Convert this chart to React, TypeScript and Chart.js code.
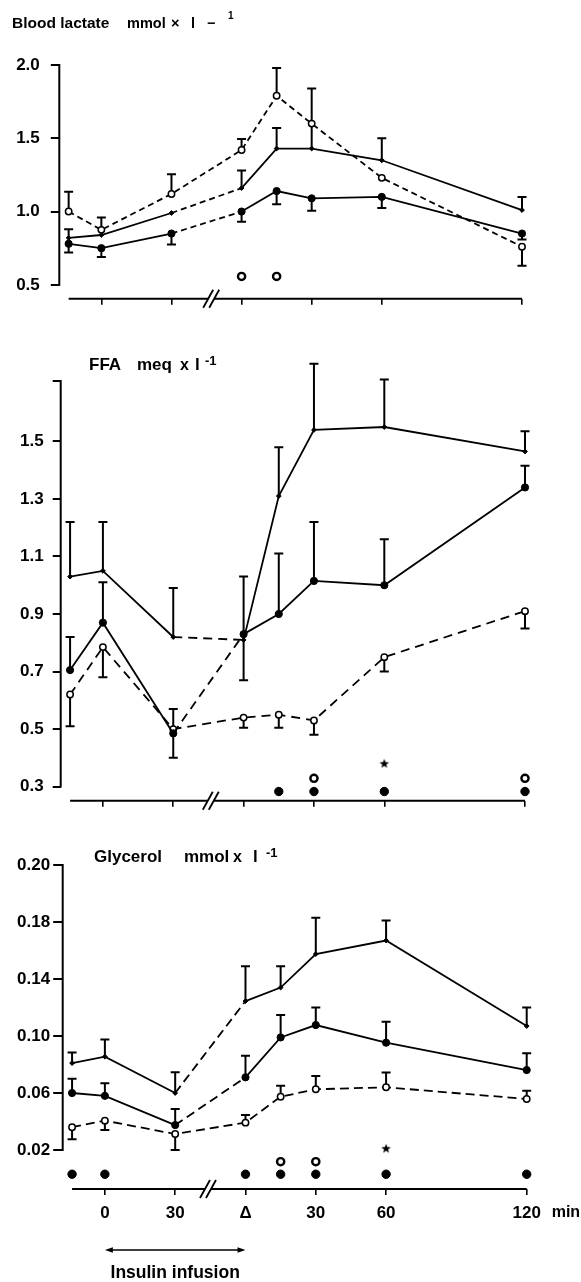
import React, { useEffect, useRef } from 'react';
import { Chart, registerables } from 'chart.js';

Chart.register(...registerables);

// Positions on the shared time axis (min). The second phase starts at Δ, which sits at 60.
const timePoints = [-14, 0, 30, 60, 75, 90, 120, 180];
const xTickValues = [0, 30, 60, 90, 120, 180];
const xTickLabels = ['0', '30', 'Δ', '30', '60', '120'];

// Blood lactate, mmol x l-1
const lactateTicks = [0.5, 1.0, 1.5, 2.0];
const lactateTickLabels = ['0.5', '1.0', '1.5', '2.0'];
const lactateSmall = [0.82, 0.84, 0.99, 1.16, 1.43, 1.43, 1.35, 1.01];
const lactateSmallSE = [0.06, null, null, 0.12, 0.14, 0.41, 0.15, 0.09];
const lactateFilled = [0.78, 0.75, 0.85, 1.0, 1.14, 1.09, 1.1, 0.85];
const lactateFilledSE = [-0.06, -0.06, -0.075, -0.07, -0.09, -0.085, -0.075, -0.04];
const lactateOpen = [1.0, 0.875, 1.12, 1.42, 1.79, 1.6, 1.23, 0.76];
const lactateOpenSE = [0.135, 0.085, 0.135, 0.075, 0.19, null, null, -0.13];
const lactateSigOpen = [60, 75];

// FFA, meq x l-1
const ffaTicks = [0.3, 0.5, 0.7, 0.9, 1.1, 1.3, 1.5, 1.71];
const ffaTickLabels = ['0.3', '0.5', '0.7', '0.9', '1.1', '1.3', '1.5', ''];
const ffaSmall = [1.03, 1.05, 0.82, 0.81, 1.31, 1.54, 1.55, 1.465];
const ffaSmallSE = [0.19, 0.17, 0.17, -0.14, 0.17, 0.23, 0.165, 0.07];
const ffaFilled = [0.705, 0.87, 0.485, 0.83, 0.9, 1.015, 1.0, 1.34];
const ffaFilledSE = [0.115, 0.14, -0.085, 0.2, 0.21, 0.205, 0.16, 0.075];
const ffaOpen = [0.62, 0.785, 0.5, 0.54, 0.55, 0.53, 0.75, 0.91];
const ffaOpenSE = [-0.11, -0.105, 0.07, -0.035, -0.045, -0.05, -0.05, -0.06];
const ffaSigFilled = [75, 90, 120, 180];
const ffaSigOpen = [90, 180];
const ffaSigStar = [120];

// Glycerol, mmol x l-1
const glycerolTicks = [0.02, 0.06, 0.1, 0.14, 0.18, 0.22];
const glycerolTickLabels = ['0.02', '0.06', '0.10', '0.14', '0.18', '0.20'];
const glycerolSmall = [0.081, 0.0855, 0.06, 0.1245, 0.134, 0.1575, 0.167, 0.107];
const glycerolSmallSE = [0.0075, 0.012, 0.0145, 0.0245, 0.015, 0.0255, 0.014, 0.013];
const glycerolFilled = [0.06, 0.058, 0.0375, 0.071, 0.099, 0.1077, 0.0953, 0.0761];
const glycerolFilledSE = [0.01, 0.0089, 0.0113, 0.0152, 0.0157, 0.0123, 0.0147, 0.0118];
const glycerolOpen = [0.036, 0.0406, 0.0312, 0.0392, 0.0574, 0.0626, 0.064, 0.0558];
const glycerolOpenSE = [-0.0085, -0.0066, -0.0112, 0.0054, 0.0076, 0.0094, 0.0103, 0.0058];
const glycerolSigFilled = [-14, 0, 60, 75, 90, 120, 180];
const glycerolSigOpen = [75, 90];
const glycerolSigStar = [120];

const FONT = '"Liberation Sans", Arial, Helvetica, sans-serif';
const font = (size: number) => `bold ${size}px ${FONT}`;
const LABEL_SIZE = 17;

type Marker = 'small' | 'filled' | 'open';
type SeriesDef = { values: number[]; errors: (number | null)[]; marker: Marker; dashedSegments: number[] | 'all' };
type TitlePiece = { text: string; x: number; y: number; size: number };
type PanelDef = {
  key: string;
  top: number;
  height: number;
  padTop: number;
  padRight: number;
  yAxisWidth: number;
  xAxisHeight: number;
  yMin: number;
  yMax: number;
  yTicks: number[];
  yTickLabels: string[];
  yTickPadding: number;
  yTickLength: number;
  axisTop: number;
  axisBottom: number;
  breakAt: number;
  dash: number[];
  series: SeriesDef[];
  sigRows: { filled: number; open: number; star: number };
  sigFilled: number[];
  sigOpen: number[];
  sigStar: number[];
  showXLabels: boolean;
  title: TitlePiece[];
};

const panels: PanelDef[] = [
  {
    key: 'lactate',
    top: 0,
    height: 320,
    padTop: 65,
    padRight: 59,
    yAxisWidth: 59.3,
    xAxisHeight: 21,
    yMin: 0.4046,
    yMax: 2.0,
    yTicks: lactateTicks,
    yTickLabels: lactateTickLabels,
    yTickPadding: 11,
    yTickLength: 8.5,
    axisTop: 2.0,
    axisBottom: 0.5,
    breakAt: 47,
    dash: [6, 4],
    series: [
      { values: lactateSmall, errors: lactateSmallSE, marker: 'small', dashedSegments: [2] },
      { values: lactateFilled, errors: lactateFilledSE, marker: 'filled', dashedSegments: [2] },
      { values: lactateOpen, errors: lactateOpenSE, marker: 'open', dashedSegments: 'all' },
    ],
    sigRows: { filled: 0.5, open: 0.557, star: 0.6 },
    sigFilled: [],
    sigOpen: lactateSigOpen,
    sigStar: [],
    showXLabels: false,
    title: [
      { text: 'Blood lactate', x: 12, y: 28, size: 15.5 },
      { text: 'mmol', x: 127, y: 28, size: 14.5 },
      { text: '×', x: 171, y: 28, size: 14.5 },
      { text: 'l', x: 191, y: 28, size: 14.5 },
      { text: '−', x: 207, y: 28, size: 14.5 },
      { text: '1', x: 228, y: 19, size: 10 },
    ],
  },
  {
    key: 'ffa',
    top: 320,
    height: 500,
    padTop: 61,
    padRight: 56,
    yAxisWidth: 60.7,
    xAxisHeight: 17.5,
    yMin: 0.2507,
    yMax: 1.71,
    yTicks: ffaTicks,
    yTickLabels: ffaTickLabels,
    yTickPadding: 9,
    yTickLength: 8,
    axisTop: 1.71,
    axisBottom: 0.3,
    breakAt: 46,
    dash: [9, 6],
    series: [
      { values: ffaSmall, errors: ffaSmallSE, marker: 'small', dashedSegments: [2] },
      { values: ffaFilled, errors: ffaFilledSE, marker: 'filled', dashedSegments: [2] },
      { values: ffaOpen, errors: ffaOpenSE, marker: 'open', dashedSegments: 'all' },
    ],
    sigRows: { filled: 0.283, open: 0.329, star: 0.381 },
    sigFilled: ffaSigFilled,
    sigOpen: ffaSigOpen,
    sigStar: ffaSigStar,
    showXLabels: false,
    title: [
      { text: 'FFA', x: 89, y: 50, size: 17 },
      { text: 'meq', x: 137, y: 50, size: 17 },
      { text: 'x', x: 180, y: 50, size: 16 },
      { text: 'l', x: 195, y: 50, size: 17 },
      { text: '-1', x: 205, y: 45, size: 13 },
    ],
  },
  {
    key: 'glycerol',
    top: 820,
    height: 462,
    padTop: 45,
    padRight: 54.3,
    yAxisWidth: 62.7,
    xAxisHeight: 93,
    yMin: -0.00737,
    yMax: 0.22,
    yTicks: glycerolTicks,
    yTickLabels: glycerolTickLabels,
    yTickPadding: 3,
    yTickLength: 9.5,
    axisTop: 0.22,
    axisBottom: 0.02,
    breakAt: 44,
    dash: [9, 5],
    series: [
      { values: glycerolSmall, errors: glycerolSmallSE, marker: 'small', dashedSegments: [2] },
      { values: glycerolFilled, errors: glycerolFilledSE, marker: 'filled', dashedSegments: [2] },
      { values: glycerolOpen, errors: glycerolOpenSE, marker: 'open', dashedSegments: 'all' },
    ],
    sigRows: { filled: 0.003, open: 0.0118, star: 0.0212 },
    sigFilled: glycerolSigFilled,
    sigOpen: glycerolSigOpen,
    sigStar: glycerolSigStar,
    showXLabels: true,
    title: [
      { text: 'Glycerol', x: 94, y: 42, size: 17 },
      { text: 'mmol', x: 184, y: 42, size: 17 },
      { text: 'x', x: 233, y: 42, size: 16 },
      { text: 'l', x: 253, y: 42, size: 17 },
      { text: '-1', x: 266, y: 36.5, size: 13 },
    ],
  },
];

function starImage(r: number): HTMLCanvasElement {
  const size = Math.ceil(r * 2) + 2;
  const c = document.createElement('canvas');
  c.width = size;
  c.height = size;
  const g = c.getContext('2d')!;
  const cx = size / 2;
  const cy = size / 2 + r * 0.1;
  g.beginPath();
  for (let i = 0; i < 10; i++) {
    const a = -Math.PI / 2 + (i * Math.PI) / 5;
    const rad = i % 2 === 0 ? r : r * 0.42;
    const px = cx + rad * Math.cos(a);
    const py = cy + rad * Math.sin(a);
    if (i === 0) g.moveTo(px, py);
    else g.lineTo(px, py);
  }
  g.closePath();
  g.fillStyle = '#000';
  g.fill();
  return c;
}

function markerStyle(m: Marker) {
  if (m === 'filled') {
    return { pointStyle: 'circle', pointRadius: 3.6, pointBackgroundColor: '#000', pointBorderColor: '#000', pointBorderWidth: 1 };
  }
  if (m === 'open') {
    return { pointStyle: 'circle', pointRadius: 3.2, pointBackgroundColor: '#fff', pointBorderColor: '#000', pointBorderWidth: 1.5 };
  }
  return { pointStyle: 'rectRot', pointRadius: 2.4, pointBackgroundColor: '#000', pointBorderColor: '#000', pointBorderWidth: 1 };
}

function decorPlugin(p: PanelDef) {
  return {
    id: 'panelDecor-' + p.key,
    beforeDatasetsDraw(chart: any) {
      const ctx = chart.ctx;
      const xs = chart.scales.x;
      const ys = chart.scales.y;
      ctx.save();
      ctx.strokeStyle = '#000';
      ctx.lineWidth = 2;
      ctx.setLineDash([]);
      chart.data.datasets.forEach((ds: any) => {
        const errs = ds.errors as (number | null)[] | undefined;
        if (!errs) return;
        ds.data.forEach((pt: any, i: number) => {
          const e = errs[i];
          if (e == null) return;
          const x = xs.getPixelForValue(pt.x);
          const y0 = ys.getPixelForValue(pt.y);
          const y1 = ys.getPixelForValue(pt.y + e);
          ctx.beginPath();
          ctx.moveTo(x, y0);
          ctx.lineTo(x, y1);
          ctx.moveTo(x - 4.5, y1);
          ctx.lineTo(x + 4.5, y1);
          ctx.stroke();
        });
      });
      ctx.restore();
    },
    afterDraw(chart: any) {
      const ctx = chart.ctx;
      const xs = chart.scales.x;
      const ys = chart.scales.y;
      const area = chart.chartArea;
      ctx.save();
      ctx.strokeStyle = '#000';
      ctx.fillStyle = '#000';
      ctx.setLineDash([]);
      ctx.lineWidth = 2;

      // vertical value axis
      ctx.beginPath();
      ctx.moveTo(area.left, ys.getPixelForValue(p.axisTop) - 1);
      ctx.lineTo(area.left, ys.getPixelForValue(p.axisBottom) + 1);
      ctx.stroke();

      // time axis with a break
      const yb = area.bottom;
      const x0 = xs.getPixelForValue(-14);
      const x1 = xs.getPixelForValue(180);
      const xb = xs.getPixelForValue(p.breakAt);
      ctx.beginPath();
      ctx.moveTo(x0, yb);
      ctx.lineTo(xb - 3, yb);
      ctx.moveTo(xb + 3, yb);
      ctx.lineTo(x1, yb);
      ctx.stroke();
      ctx.lineWidth = 1.8;
      [-3, 3].forEach((dx) => {
        ctx.beginPath();
        ctx.moveTo(xb + dx - 5, yb + 9);
        ctx.lineTo(xb + dx + 5, yb - 9);
        ctx.stroke();
      });

      // panel heading
      ctx.textBaseline = 'alphabetic';
      ctx.textAlign = 'left';
      p.title.forEach((t) => {
        ctx.font = font(t.size);
        ctx.fillText(t.text, t.x, t.y);
      });

      if (p.showXLabels) {
        ctx.font = font(16);
        ctx.fillText('min', xs.getPixelForValue(180) + 25, 397);

        // infusion period
        const a0 = xs.getPixelForValue(0);
        const a1 = xs.getPixelForValue(60);
        const ay = 430;
        ctx.lineWidth = 1.5;
        ctx.beginPath();
        ctx.moveTo(a0 + 3, ay);
        ctx.lineTo(a1 - 3, ay);
        ctx.stroke();
        ctx.beginPath();
        ctx.moveTo(a0, ay);
        ctx.lineTo(a0 + 8, ay - 2.8);
        ctx.lineTo(a0 + 8, ay + 2.8);
        ctx.closePath();
        ctx.fill();
        ctx.beginPath();
        ctx.moveTo(a1, ay);
        ctx.lineTo(a1 - 8, ay - 2.8);
        ctx.lineTo(a1 - 8, ay + 2.8);
        ctx.closePath();
        ctx.fill();
        ctx.textAlign = 'center';
        ctx.font = font(17.5);
        ctx.fillText('Insulin infusion', xs.getPixelForValue(30), 458);
      }
      ctx.restore();
    },
  };
}

function buildChart(canvas: HTMLCanvasElement, p: PanelDef, star: HTMLCanvasElement) {
  const datasets: any[] = [];
  p.series.forEach((s) => {
    const allDashed = s.dashedSegments === 'all';
    const segs = allDashed ? [] : (s.dashedSegments as number[]);
    datasets.push({
      type: 'line',
      data: timePoints.map((t, i) => ({ x: t, y: s.values[i] })),
      errors: s.errors,
      borderColor: '#000',
      borderWidth: 1.8,
      borderDash: allDashed ? p.dash : [],
      segment: {
        borderDash: (ctx: any) => (!allDashed && segs.includes(ctx.p0DataIndex) ? p.dash : undefined),
      },
      tension: 0,
      fill: false,
      clip: false,
      ...markerStyle(s.marker),
    });
  });
  const sig = (times: number[], row: number) => times.map((t) => ({ x: t, y: row }));
  if (p.sigFilled.length) {
    datasets.push({
      type: 'line', showLine: false, clip: false, data: sig(p.sigFilled, p.sigRows.filled),
      pointStyle: 'circle', pointRadius: 4.2, pointBackgroundColor: '#000', pointBorderColor: '#000', pointBorderWidth: 1,
    });
  }
  if (p.sigOpen.length) {
    datasets.push({
      type: 'line', showLine: false, clip: false, data: sig(p.sigOpen, p.sigRows.open),
      pointStyle: 'circle', pointRadius: 3.6, pointBackgroundColor: '#fff', pointBorderColor: '#000', pointBorderWidth: 2.4,
    });
  }
  if (p.sigStar.length) {
    datasets.push({
      type: 'line', showLine: false, clip: false, data: sig(p.sigStar, p.sigRows.star),
      pointStyle: star, pointRadius: 5,
    });
  }

  return new Chart(canvas, {
    type: 'line',
    data: { datasets },
    options: {
      responsive: false,
      animation: false,
      devicePixelRatio: 1,
      events: [],
      layout: { padding: { top: p.padTop, right: p.padRight, bottom: 0, left: 0 } },
      plugins: { legend: { display: false }, tooltip: { enabled: false }, title: { display: false } },
      scales: {
        x: {
          type: 'linear',
          min: -18,
          max: 180,
          bounds: 'data',
          afterBuildTicks: (scale: any) => {
            scale.ticks = xTickValues.map((v) => ({ value: v }));
          },
          afterFit: (scale: any) => {
            scale.height = p.xAxisHeight;
          },
          ticks: {
            display: p.showXLabels,
            autoSkip: false,
            maxRotation: 0,
            padding: 8,
            color: '#000',
            font: { family: FONT, size: LABEL_SIZE, weight: 'bold' },
            callback: (_v: any, i: number) => xTickLabels[i],
          },
          grid: { drawOnChartArea: false, drawTicks: true, tickLength: 6, color: '#000', lineWidth: 1.6 },
          border: { display: false },
        },
        y: {
          type: 'linear',
          min: p.yMin,
          max: p.yMax,
          bounds: 'data',
          afterBuildTicks: (scale: any) => {
            scale.ticks = p.yTicks.map((v) => ({ value: v }));
          },
          afterFit: (scale: any) => {
            scale.width = p.yAxisWidth;
          },
          ticks: {
            autoSkip: false,
            padding: p.yTickPadding,
            color: '#000',
            font: { family: FONT, size: LABEL_SIZE, weight: 'bold' },
            callback: (_v: any, i: number) => p.yTickLabels[i],
          },
          grid: { drawOnChartArea: false, drawTicks: true, tickLength: p.yTickLength, color: '#000', lineWidth: 2 },
          border: { display: false },
        },
      },
    } as any,
    plugins: [decorPlugin(p)],
  });
}

export default function App() {
  const ref0 = useRef<HTMLCanvasElement>(null);
  const ref1 = useRef<HTMLCanvasElement>(null);
  const ref2 = useRef<HTMLCanvasElement>(null);
  const refs = [ref0, ref1, ref2];

  useEffect(() => {
    const star = starImage(5);
    const charts = panels.map((p, i) => buildChart(refs[i].current as HTMLCanvasElement, p, star));
    return () => charts.forEach((c) => c.destroy());
  }, []);

  return (
    <div style={{ position: 'fixed', left: 0, top: 0, width: 581, height: 1282, background: '#fff', overflow: 'hidden' }}>
      {panels.map((p, i) => (
        <canvas
          key={p.key}
          ref={refs[i]}
          width={581}
          height={p.height}
          style={{ position: 'absolute', left: 0, top: p.top, width: 581, height: p.height, display: 'block' }}
        />
      ))}
    </div>
  );
}
